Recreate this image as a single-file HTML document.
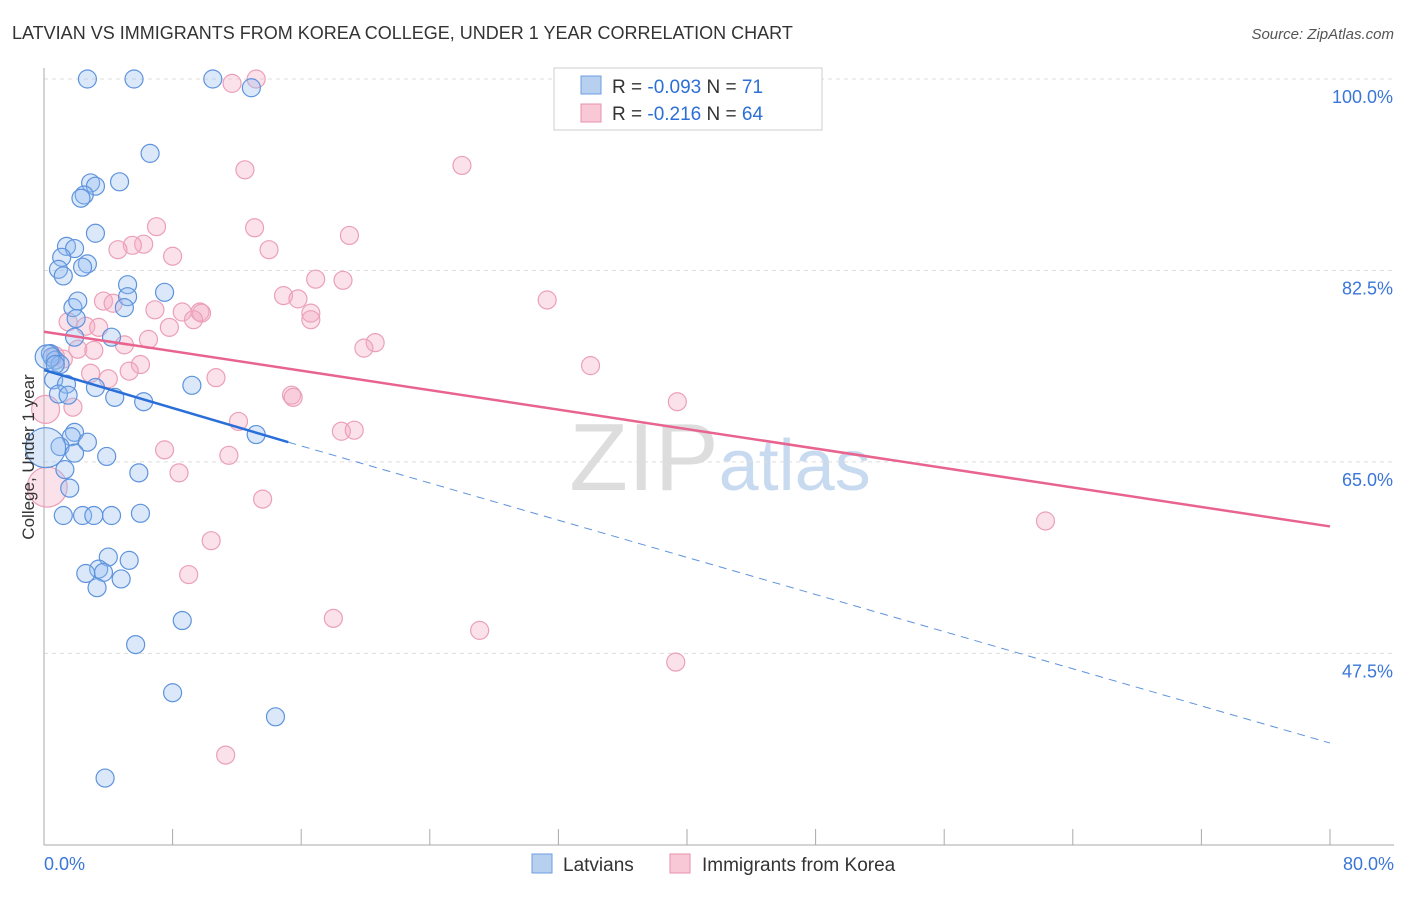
<!DOCTYPE html>
<html><head><meta charset="utf-8"><style>
body{margin:0;background:#fff;font-family:"Liberation Sans",sans-serif;}
svg text{font-family:"Liberation Sans",sans-serif;}
</style></head><body>
<svg id="chart" width="1406" height="892" xmlns="http://www.w3.org/2000/svg">
<text x="12" y="39" font-size="18" fill="#333">LATVIAN VS IMMIGRANTS FROM KOREA COLLEGE, UNDER 1 YEAR CORRELATION CHART</text>
<text x="1394" y="39" font-size="15" fill="#555" text-anchor="end" font-style="italic">Source: ZipAtlas.com</text>
<text x="720" y="490" font-size="96" fill="#ddd" text-anchor="middle" font-family="Liberation Serif">ZIP<tspan fill="#c8daf0" font-family="Liberation Sans" font-size="72">atlas</tspan></text>
<g id="grid"></g>
<g id="axes"></g>
<g id="pts"></g>
<g id="lines"></g>
<text transform="translate(34,457) rotate(-90)" font-size="17" fill="#333" text-anchor="middle">College, Under 1 year</text>
<g>
<rect x="554" y="68" width="268" height="62" fill="#fff" stroke="#ccc"/>
<rect x="581" y="76" width="20" height="18" fill="#b8d0f0" stroke="#6d9de0"/>
<rect x="581" y="104" width="20" height="18" fill="#f8c8d6" stroke="#e890aa"/>
<text x="612" y="93" font-size="19" fill="#333">R = <tspan fill="#2c6fd6">-0.093</tspan>   N = <tspan fill="#2c6fd6"> 71</tspan></text>
<text x="612" y="120" font-size="19" fill="#333">R =  <tspan fill="#2c6fd6">-0.216</tspan>   N = <tspan fill="#2c6fd6">64</tspan></text>
</g>
<g>
<rect x="532" y="854" width="20" height="19" fill="#b8d0f0" stroke="#6d9de0"/>
<text x="563" y="871" font-size="19" fill="#333">Latvians</text>
<rect x="670" y="854" width="20" height="19" fill="#f8c8d6" stroke="#e890aa"/>
<text x="702" y="871" font-size="19" fill="#333">Immigrants from Korea</text>
</g>
</svg>
<script>
const yTicks=[100,82.5,65,47.5];
const yTickLabels=["100.0%","82.5%","65.0%","47.5%"];
const xTickLabels=["0.0%","80.0%"];
const blueX=[2.7,5.6,10.5,12.9,6.6,2.9,4.7,3.2,2.5,2.3,3.2,1.4,1.9,1.1,2.7,0.9,2.4,1.2,5.2,5.2,7.5,1.8,2.1,5.0,2.0,1.9,4.2,0.4,0.5,0.7,1.0,0.6,1.4,0.9,1.5,3.2,4.4,6.2,9.2,13.2,1.9,1.7,2.7,1.0,1.9,3.9,5.9,1.3,1.6,1.2,2.4,3.1,4.2,6.0,4.0,5.3,3.4,3.7,2.6,4.8,3.3,8.6,5.7,8.0,14.4,3.8,0.1,0.2,0.7];
const blueY=[100,100,100,99.2,93.2,90.5,90.6,90.2,89.4,89.1,85.9,84.7,84.5,83.7,83.1,82.6,82.8,82,81.2,80.1,80.5,79.1,79.7,79.1,78.1,76.4,76.4,74.9,74.6,74.3,73.9,72.5,72.1,71.2,71.1,71.8,70.9,70.5,72,67.5,67.7,67.3,66.8,66.4,65.8,65.5,64,64.3,62.6,60.1,60.1,60.1,60.1,60.3,56.3,56,55.2,54.9,54.8,54.3,53.5,50.5,48.3,43.9,41.7,36.1,66.3,74.6,73.9];
const blueR=[9,9,9,9,9,9,9,9,9,9,9,9,9,9,9,9,9,9,9,9,9,9,9,9,9,9,9,9,9,9,9,9,9,9,9,9,9,9,9,9,9,9,9,9,9,9,9,9,9,9,9,9,9,9,9,9,9,9,9,9,9,9,9,9,9,9,20,12,9];
const pinkX=[11.7,13.2,26,12.5,7,13.1,19,6.2,5.5,4.6,8,14,16.9,18.6,14.9,15.8,31.3,3.7,4.3,6.9,8.6,9.7,9.8,16.6,16.6,9.3,1.5,2.6,3.4,7.8,6.5,5,20.6,19.9,2.1,3.1,0.7,1.2,6,5.3,34,2.9,4,10.7,15.4,15.5,39.4,0.1,1.8,12.1,18.5,19.3,7.5,11.5,8.4,13.6,62.3,10.4,9,18,27.1,39.3,11.3,0.2];
const pinkY=[99.6,100,92.1,91.7,86.5,86.4,85.7,84.9,84.8,84.4,83.8,84.4,81.7,81.6,80.2,79.9,79.8,79.7,79.5,78.9,78.7,78.7,78.6,78.6,78,78,77.8,77.4,77.3,77.3,76.2,75.7,75.9,75.4,75.3,75.2,74.7,74.4,73.9,73.3,73.8,73.1,72.6,72.7,71.1,70.9,70.5,69.8,70,68.7,67.8,67.9,66.1,65.6,64,61.6,59.6,57.8,54.7,50.7,49.6,46.7,38.2,62.7];
const pinkR=[9,9,9,9,9,9,9,9,9,9,9,9,9,9,9,9,9,9,9,9,9,9,9,9,9,9,9,9,9,9,9,9,9,9,9,9,9,9,9,9,9,9,9,9,9,9,9,14,9,9,9,9,9,9,9,9,9,9,9,9,9,9,9,20];
const blueTrend=[[0,73.4],[15.2,66.8]];
const blueTrendDash=[[15.2,66.8],[80,39.3]];
const pinkTrend=[[0,76.9],[80,59.1]];

const NS="http://www.w3.org/2000/svg";
const X0=44,X1=1330,Y100=79,PX=10.94;
const xs=v=>X0+(v/80)*(X1-X0);
const ys=v=>Y100+(100-v)*PX;
function mk(tag,attrs,parent){const e=document.createElementNS(NS,tag);for(const k in attrs)e.setAttribute(k,attrs[k]);parent.appendChild(e);return e;}
const grid=document.getElementById('grid'),axes=document.getElementById('axes'),pts=document.getElementById('pts'),lines=document.getElementById('lines');
yTicks.forEach((t,i)=>{
 const l=mk('line',{x1:X0,x2:1394,y1:ys(t),y2:ys(t),stroke:'#ddd','stroke-dasharray':'4,4'},grid);
 
 
 const tx=mk('text',{x:1393,y:ys(t)+24,'font-size':18,fill:'#3a76d8','text-anchor':'end'},axes);
 tx.textContent=yTickLabels[i];
 
 
});
let a=mk('line',{x1:X0,x2:X0,y1:68,y2:845,stroke:'#aaa'},axes);


a=mk('line',{x1:X0,x2:1394,y1:845,y2:845,stroke:'#aaa'},axes);


for(let i=0;i<=10;i++){
 const t=mk('line',{x1:xs(i*8),x2:xs(i*8),y1:829,y2:845,stroke:'#aaa'},axes);
 
 
}
[[0,'start'],[80,'end']].forEach((d,i)=>{
 const t=mk('text',{x:i?1394:44,y:870,'font-size':18,fill:'#3a76d8','text-anchor':d[1]},axes);
 t.textContent=xTickLabels[i];
 
 
});
function drawPts(X,Y,R,fill,stroke,name){
 X.forEach((x,i)=>{
  const c=mk('circle',{cx:xs(x),cy:ys(Y[i]),r:R[i],fill:fill,stroke:stroke,'stroke-width':1.2},pts);
  
  
 });
}
drawPts(pinkX,pinkY,pinkR,'rgba(244,170,195,0.35)','#eba0b8','korea-point');
drawPts(blueX,blueY,blueR,'rgba(150,190,240,0.35)','#5e93dc','latvian-point');
function ln(p,stroke,w,dash,name){
 const l=mk('line',{x1:xs(p[0][0]),y1:ys(p[0][1]),x2:xs(p[1][0]),y2:ys(p[1][1]),stroke:stroke,'stroke-width':w},lines);
 if(dash)l.setAttribute('stroke-dasharray',dash);
 
 
}
ln(pinkTrend,'#e8648f',2.5,null,'korea-trend-line');
ln(blueTrend,'#2a6fd8',2.5,null,'latvian-trend-line');
ln(blueTrendDash,'#5e93dc',1,'8,6','latvian-trend-extension');
</script>
</body></html>
